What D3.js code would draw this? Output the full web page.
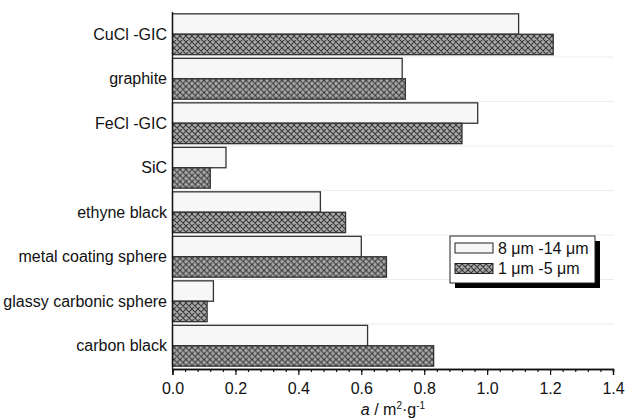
<!DOCTYPE html>
<html><head><meta charset="utf-8">
<script src="https://cdn.jsdelivr.net/npm/d3@7"></script>
<style>body{margin:0;background:#fff}text{font-family:"Liberation Sans",Arial,sans-serif}</style>
</head><body><svg id="c" width="628" height="420"></svg>
<script>
const categories = ["CuCl -GIC","graphite","FeCl -GIC","SiC","ethyne black","metal coating sphere","glassy carbonic sphere","carbon black"];
const series = ["8 \u03bcm -14 \u03bcm","1 \u03bcm -5 \u03bcm"];
const valuesLarge = [1.10,0.73,0.97,0.17,0.47,0.60,0.13,0.62];
const valuesSmall = [1.21,0.74,0.92,0.12,0.55,0.68,0.11,0.83];
const xTicks = [0.0,0.2,0.4,0.6,0.8,1.0,1.2,1.4];

const svg = d3.select("#c");
const defs = svg.append("defs");
const pat = defs.append("pattern").attr("id","hatch").attr("patternUnits","userSpaceOnUse").attr("width",6).attr("height",6);
pat.append("rect").attr("width",6).attr("height",6).attr("fill","#a8a8a8");
pat.append("path").attr("d","M0,0L6,6M6,0L0,6M-1,5L1,7M5,-1L7,1M-1,1L1,-1M5,7L7,5").attr("stroke","#3a3a3a").attr("stroke-width",1.1);

const x = d3.scaleLinear().domain([0,1.4]).range([172.5,613]);
const y = d3.scaleBand().domain(categories).range([12,368]).paddingInner(0).paddingOuter(0);
const inner = d3.scaleBand().domain(series).range([0,y.bandwidth()]).paddingOuter(0.09).paddingInner(0);

const g = svg.append("g");
g.selectAll("line.sep").data(categories.slice(1)).join("line")
  .attr("x1",x(0)).attr("x2",614).attr("y1",d=>y(d)+0.5).attr("y2",d=>y(d)+0.5)
  .attr("stroke","#ececec").attr("stroke-width",1);

const data = categories.map((c,i)=>({c, v:[valuesLarge[i],valuesSmall[i]]}));
const grp = g.selectAll("g.cat").data(data).join("g").attr("transform",d=>`translate(0,${y(d.c)})`);
grp.selectAll("rect").data(d=>d.v.map((v,j)=>({v,s:series[j],j}))).join("rect")
  .attr("x",x(0)).attr("y",d=>inner(d.s)).attr("width",d=>x(d.v)-x(0)).attr("height",inner.bandwidth())
  .attr("fill",d=>d.j===0?"#f7f7f7":"url(#hatch)").attr("stroke","#333").attr("stroke-width",1.3);

svg.selectAll("text.cat").data(categories).join("text")
  .attr("x",167).attr("y",d=>y(d)+y.bandwidth()/2).attr("dy","0.35em")
  .attr("text-anchor","end").attr("font-size",16).attr("fill","#111").text(d=>d);

svg.append("line").attr("x1",172.5).attr("x2",172.5).attr("y1",12).attr("y2",369).attr("stroke","#111").attr("stroke-width",1.3);

const xa = svg.append("g").attr("transform","translate(0,369)");
xa.call(d3.axisBottom(x).tickValues(d3.range(0,1.4001,0.04)).tickSize(3).tickFormat(""));
xa.append("g").call(d3.axisBottom(x).tickValues(xTicks).tickSize(6).tickFormat(d3.format(".1f")));
xa.selectAll("path.domain").attr("stroke","#111").attr("stroke-width",1.3);
xa.selectAll("line").attr("stroke","#111").attr("stroke-width",1.2);
xa.selectAll("text").attr("font-size",16).attr("fill","#111").attr("font-family","Liberation Sans, Arial, sans-serif").attr("dy","1.0em");

const t = svg.append("text").attr("x",393).attr("y",415).attr("text-anchor","middle").attr("font-size",16).attr("fill","#111");
t.append("tspan").attr("font-style","italic").text("a");
t.append("tspan").text(" / m");
t.append("tspan").attr("font-size",10).attr("dy",-6).text("2");
t.append("tspan").attr("dy",6).text("\u00b7g");
t.append("tspan").attr("font-size",10).attr("dy",-6).text("-1");

const lg = svg.append("g");
lg.append("rect").attr("x",455).attr("y",241).attr("width",145).attr("height",47).attr("fill","#000");
lg.append("rect").attr("x",450).attr("y",236).attr("width",145).attr("height",47).attr("fill","#fff").attr("stroke","#222").attr("stroke-width",1);
series.forEach((s,i)=>{
  lg.append("rect").attr("x",455).attr("y",243+i*20.5).attr("width",38).attr("height",10)
    .attr("fill",i===0?"#f7f7f7":"url(#hatch)").attr("stroke","#222").attr("stroke-width",1);
  lg.append("text").attr("x",498).attr("y",248+i*20.5).attr("dy","0.35em").attr("font-size",16).attr("fill","#111").text(s);
});
</script></body></html>
